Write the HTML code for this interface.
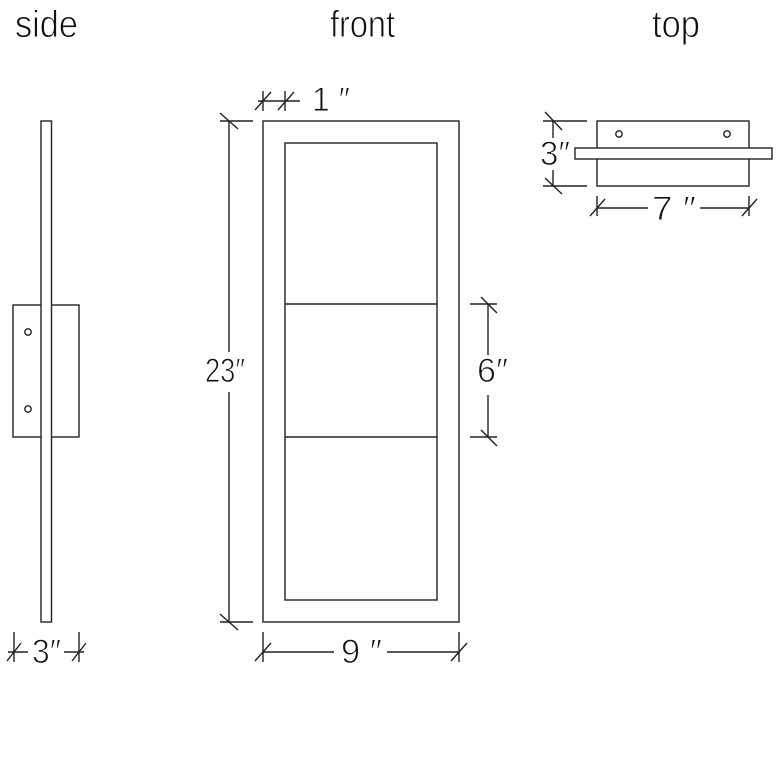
<!DOCTYPE html>
<html><head><meta charset="utf-8"><style>
html,body{margin:0;padding:0;background:#fff;}
svg{display:block}
text{font-family:"Liberation Sans",sans-serif;fill:#111;stroke:#fff;stroke-width:0.9;paint-order:normal;font-weight:normal}
</style></head><body>
<svg width="780" height="780" viewBox="0 0 780 780" xmlns="http://www.w3.org/2000/svg">
<g stroke="#222" stroke-width="1.4" fill="none">
<!-- side -->
<rect x="13" y="305" width="66" height="132"/>
<rect x="41" y="121" width="10.5" height="501" fill="#fff"/>
<circle cx="28" cy="332" r="3.2"/>
<circle cx="28" cy="409" r="3.2"/>
<line x1="14" y1="632" x2="14" y2="662"/>
<line x1="79" y1="632" x2="79" y2="662"/>
<line x1="8" y1="652" x2="28" y2="652"/>
<line x1="64" y1="652" x2="84" y2="652"/>
<line x1="7" y1="661" x2="21" y2="643"/>
<line x1="72" y1="661" x2="86" y2="643"/>
<!-- front -->
<rect x="263" y="121" width="196" height="501"/>
<rect x="285" y="143" width="152" height="457"/>
<line x1="285" y1="304" x2="437" y2="304"/>
<line x1="285" y1="437" x2="437" y2="437"/>
<!-- 23 -->
<line x1="220" y1="121" x2="253" y2="121"/>
<line x1="220" y1="622" x2="253" y2="622"/>
<line x1="229" y1="121" x2="229" y2="352"/>
<line x1="229" y1="392" x2="229" y2="622"/>
<line x1="220" y1="113" x2="238" y2="129"/>
<line x1="220" y1="614" x2="238" y2="630"/>
<!-- 1 -->
<line x1="263" y1="91" x2="263" y2="111"/>
<line x1="285" y1="91" x2="285" y2="111"/>
<line x1="258" y1="101" x2="300" y2="101"/>
<line x1="255" y1="110" x2="271" y2="92"/>
<line x1="278" y1="110" x2="294" y2="92"/>
<!-- 6 -->
<line x1="470" y1="304" x2="497" y2="304"/>
<line x1="470" y1="437" x2="497" y2="437"/>
<line x1="488" y1="304" x2="488" y2="355"/>
<line x1="488" y1="395" x2="488" y2="437"/>
<line x1="481" y1="297" x2="497" y2="313"/>
<line x1="481" y1="430" x2="497" y2="446"/>
<!-- 9 -->
<line x1="263" y1="632" x2="263" y2="662"/>
<line x1="459" y1="632" x2="459" y2="662"/>
<line x1="263" y1="652" x2="334" y2="652"/>
<line x1="387" y1="652" x2="459" y2="652"/>
<line x1="255" y1="661" x2="271" y2="643"/>
<line x1="451" y1="661" x2="467" y2="643"/>
<!-- top -->
<rect x="597" y="121" width="152" height="65"/>
<rect x="575" y="148" width="197" height="11" fill="#fff"/>
<circle cx="619" cy="134" r="3.2"/>
<circle cx="727" cy="134" r="3.2"/>
<line x1="543" y1="121" x2="587" y2="121"/>
<line x1="543" y1="186" x2="587" y2="186"/>
<line x1="553" y1="121" x2="553" y2="138"/>
<line x1="553" y1="170" x2="553" y2="186"/>
<line x1="545" y1="112" x2="562" y2="130"/>
<line x1="545" y1="178" x2="562" y2="194"/>
<line x1="597" y1="196" x2="597" y2="216"/>
<line x1="749" y1="196" x2="749" y2="216"/>
<line x1="597" y1="208" x2="648" y2="208"/>
<line x1="700" y1="208" x2="749" y2="208"/>
<line x1="590" y1="216" x2="605" y2="199"/>
<line x1="742" y1="216" x2="757" y2="199"/>
</g>
<g font-size="38">
<text x="15" y="37" textLength="63" lengthAdjust="spacingAndGlyphs">side</text>
<text x="330" y="37" textLength="65" lengthAdjust="spacingAndGlyphs">front</text>
<text x="652" y="37" textLength="48" lengthAdjust="spacingAndGlyphs">top</text>
</g>
<g font-size="34">
<text x="205" y="382" textLength="40" lengthAdjust="spacingAndGlyphs">23″</text>
<text x="477" y="382" textLength="31" lengthAdjust="spacingAndGlyphs">6″</text>
<text x="341" y="663" textLength="41" lengthAdjust="spacingAndGlyphs">9 ″</text>
<text x="32" y="663" textLength="29" lengthAdjust="spacingAndGlyphs">3″</text>
<text x="540" y="165" textLength="30" lengthAdjust="spacingAndGlyphs">3″</text>
<text x="652" y="220" textLength="44" lengthAdjust="spacingAndGlyphs">7 ″</text>
<text x="312" y="111" textLength="38" lengthAdjust="spacingAndGlyphs">1 ″</text>
</g>
</svg>
</body></html>
